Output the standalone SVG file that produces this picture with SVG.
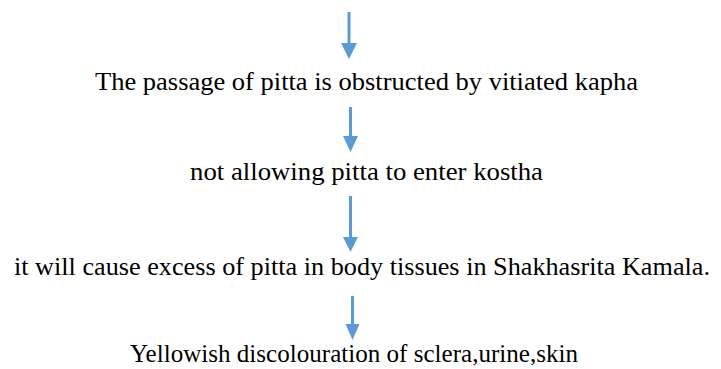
<svg xmlns="http://www.w3.org/2000/svg" width="721" height="369" viewBox="0 0 721 369">
<defs>
<style>
.c{stroke:#5b9bd5;stroke-width:3;fill:none}
.h{fill:#5b9bd5}
</style>
</defs>
<rect width="721" height="369" fill="#fff"/>
<g id="connectors">
<line class="c" x1="349" y1="12" x2="349" y2="45"/>
<polygon class="h" points="341,43 357,43 349,59"/>
<line class="c" x1="350.5" y1="107" x2="350.5" y2="138"/>
<polygon class="h" points="343,136 358,136 350.5,152"/>
<line class="c" x1="350.5" y1="196" x2="350.5" y2="239"/>
<polygon class="h" points="343,237 358,237 350.5,252"/>
<line class="c" x1="352.5" y1="296" x2="352.5" y2="326"/>
<polygon class="h" points="345.5,324 359.5,324 352.5,340"/>
</g>
<g font-family="Liberation Serif, Times New Roman, serif" font-size="26" fill="#000">
<g id="node1"><text x="95" y="90" textLength="543" lengthAdjust="spacingAndGlyphs">The passage of pitta is obstructed by vitiated kapha</text></g>
<g id="node2"><text x="190" y="180" textLength="353" lengthAdjust="spacingAndGlyphs">not allowing pitta to enter kostha</text></g>
<g id="node3"><text x="14" y="275" textLength="696" lengthAdjust="spacingAndGlyphs">it will cause excess of pitta in body tissues in Shakhasrita Kamala.</text></g>
<g id="node4"><text x="130" y="362" textLength="448" lengthAdjust="spacingAndGlyphs">Yellowish discolouration of sclera,urine,skin</text></g>
</g>
</svg>
